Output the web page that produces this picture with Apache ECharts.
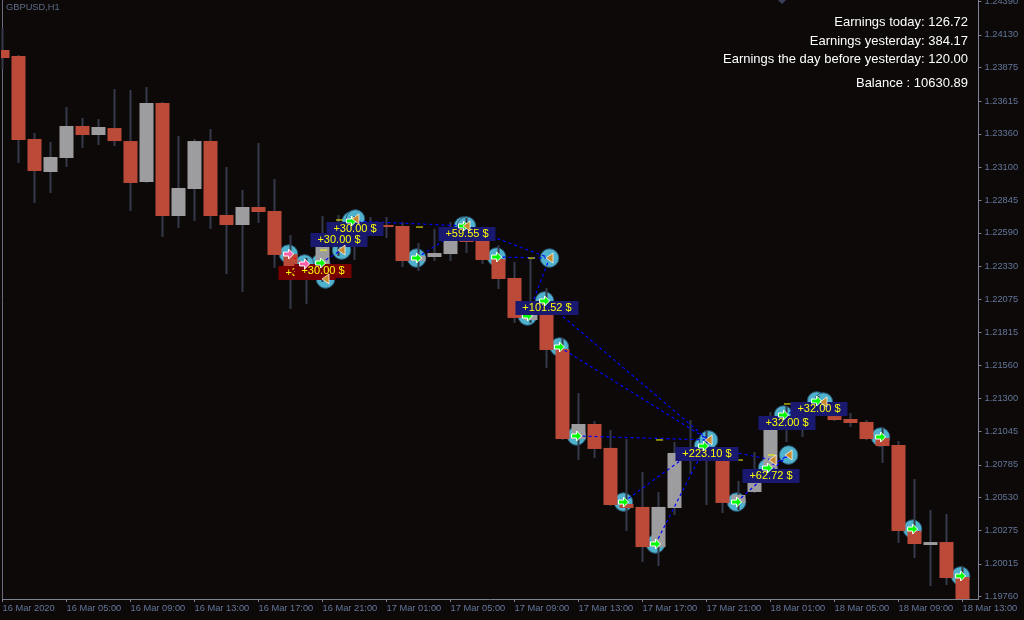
<!DOCTYPE html>
<html>
<head>
<meta charset="utf-8">
<style>html,body{margin:0;padding:0;background:#0c0908}#c{width:1024px;height:620px}</style>
<script src="https://cdn.jsdelivr.net/npm/echarts@6/dist/echarts.min.js"></script>
</head>
<body>
<div id="c"></div>
<script>
const opens=[1.24012,1.23965,1.23320,1.23063,1.23172,1.23421,1.23351,1.23405,1.23304,1.22985,1.23600,1.22721,1.22931,1.23304,1.22729,1.22651,1.22791,1.22760,1.22425,1.22332,1.22317,1.22480,1.22597,1.22667,1.22651,1.22643,1.22371,1.22402,1.22425,1.22612,1.22534,1.22387,1.22239,1.21912,1.22021,1.21686,1.20986,1.21103,1.20917,1.20481,1.20458,1.20146,1.20450,1.20878,1.20917,1.20831,1.20489,1.20574,1.20706,1.21095,1.21165,1.21181,1.21165,1.21142,1.21119,1.20994,1.20940,1.20271,1.20162,1.20185,1.19913];
const closes=[1.23950,1.23312,1.23071,1.23180,1.23421,1.23351,1.23413,1.23304,1.22978,1.23600,1.22721,1.22939,1.23304,1.22721,1.22651,1.22791,1.22752,1.22418,1.22317,1.22309,1.22480,1.22597,1.22667,1.22651,1.22635,1.22371,1.22410,1.22433,1.22527,1.22519,1.22379,1.22231,1.21928,1.22021,1.21679,1.20986,1.21103,1.20909,1.20473,1.20450,1.20146,1.20458,1.20878,1.20917,1.20831,1.20489,1.20551,1.20706,1.21095,1.21165,1.21228,1.21251,1.21134,1.21111,1.20986,1.20932,1.20271,1.20170,1.20185,1.19905,1.19742];
const highs=[1.24183,1.23973,1.23367,1.23297,1.23569,1.23483,1.23475,1.23709,1.23701,1.23724,1.23608,1.23343,1.23320,1.23398,1.23102,1.22923,1.23289,1.23009,1.22573,1.22394,1.22721,1.22729,1.22721,1.22713,1.22713,1.22674,1.22511,1.22620,1.22674,1.22705,1.22612,1.22495,1.22363,1.22394,1.22161,1.21772,1.21344,1.21126,1.21056,1.20986,1.20730,1.20574,1.20963,1.21134,1.21056,1.20901,1.20660,1.20885,1.21196,1.21243,1.21274,1.21321,1.21267,1.21189,1.21134,1.21080,1.20971,1.20675,1.20434,1.20403,1.19999];
const lows=[1.23864,1.23133,1.22822,1.22900,1.23102,1.23250,1.23273,1.23265,1.22760,1.22978,1.22558,1.22628,1.22682,1.22620,1.22270,1.22130,1.22667,1.22317,1.21998,1.22037,1.22208,1.22410,1.22379,1.22589,1.22550,1.22324,1.22293,1.22371,1.22371,1.22433,1.22348,1.22153,1.21889,1.21889,1.21539,1.20979,1.20823,1.20839,1.20465,1.20271,1.20030,1.19999,1.20395,1.20714,1.20473,1.20411,1.20434,1.20566,1.20668,1.20963,1.21002,1.21165,1.21126,1.21080,1.20979,1.20800,1.20178,1.20061,1.19843,1.19851,1.19742];

const priceTicks=[1.24390,1.24130,1.23875,1.23615,1.23360,1.23100,1.22845,1.22590,1.22330,1.22075,1.21815,1.21560,1.21300,1.21045,1.20785,1.20530,1.20275,1.20015,1.19760];
const hourTicks=[0,4,8,12,16,20,24,28,32,36,40,44,48,52,56,60];
const hourLabels=['16 Mar 2020','16 Mar 05:00','16 Mar 09:00','16 Mar 13:00','16 Mar 17:00','16 Mar 21:00','17 Mar 01:00','17 Mar 05:00','17 Mar 09:00','17 Mar 13:00','17 Mar 17:00','17 Mar 21:00','18 Mar 01:00','18 Mar 05:00','18 Mar 09:00','18 Mar 13:00'];

const greenEntries=[[19.88,1.22355],[21.81,1.22682],[25.88,1.22394],[28.81,1.22643],[30.88,1.22402],[33.88,1.22060],[34.81,1.21702],[35.88,1.21010],[38.81,1.20496],[40.81,1.20170],[43.81,1.20932],[45.88,1.20496],[47.81,1.20761],[48.81,1.21173],[50.88,1.21282],[54.88,1.21002],[56.88,1.20286],[59.88,1.19921]];
const coveredEntries=[[32.81,1.21943]];
const pinkEntries=[[17.88,1.22425],[18.88,1.22348]];
const exits=[[20.19,1.22231],[21.19,1.22456],[22.06,1.22698],[29.0,1.22643],[34.19,1.22394],[44.13,1.20979],[49.13,1.20862],[51.31,1.21274]];
const bareExits=[[48.13,1.20823]];
const closeDashes=[[21.06,1.22690],[20.06,1.22456],[19.06,1.22231],[26.06,1.22635],[33.06,1.22394],[41.06,1.20979],[46.06,1.20823],[49.06,1.21259],[48.06,1.20862]];

const blueLines=[
 [[21.81,1.22682],[29.0,1.22643]],
 [[25.88,1.22394],[29.0,1.22643]],
 [[28.81,1.22643],[34.19,1.22394]],
 [[30.88,1.22402],[34.19,1.22394]],
 [[32.81,1.21943],[34.19,1.22394]],
 [[33.88,1.22060],[44.13,1.20979]],
 [[34.81,1.21702],[44.13,1.20979]],
 [[35.88,1.21010],[44.13,1.20979]],
 [[38.81,1.20496],[44.13,1.20979]],
 [[40.81,1.20170],[44.13,1.20979]],
 [[43.81,1.20932],[48.13,1.20823]],
 [[45.88,1.20496],[49.13,1.20862]],
 [[47.81,1.20761],[49.13,1.20862]],
 [[19.88,1.22355],[21.19,1.22456]],
 [[48.81,1.21173],[51.31,1.21274]]
];
const redLines=[
 [[17.88,1.22425],[20.19,1.22231]],
 [[18.88,1.22348],[20.19,1.22231]]
];

const profitTexts=['+30.00 $','+30.00 $','+59.55 $','+101.52 $','+223.10 $','+62.72 $','+32.00 $','+32.00 $'];
const profitSpots=[[21.03,1.22534],[22.03,1.22620],[29.03,1.22581],[34.03,1.22005],[44.03,1.20870],[48.03,1.20699],[49.03,1.21111],[51.03,1.21220]];
const openTextsBack=['+30.00 $'];
const openSpotsBack=[[19.03,1.22278]];
const openTextsFront=['+30.00 $'];
const openSpotsFront=[[20.03,1.22293]];

const infoLines=['Earnings today: 126.72','Earnings yesterday: 384.17','Earnings the day before yesterday: 120.00','Balance : 10630.89'];

const wickData=opens.map((o,i)=>[i,o,closes[i],lows[i],highs[i]]);
const bodyData=opens.map((o,i)=>[i,o,closes[i],Math.min(o,closes[i]),Math.max(o,closes[i])]);

const RED='#bc4a39',GRAY='#9d9d9f',WICK='#343a49',BLUE='#191970',MAROON='#7a0000';
const FONT='"Liberation Sans", Arial, sans-serif';
const ARROW='path://M0,3 L5,3 L5,0 L10,5 L5,10 L5,7 L0,7 Z';
const TRI='path://M10,0 L10,12 L0,6 Z';

function dot(name,data,z){return {name,type:'scatter',data,z,silent:true,symbol:'circle',symbolSize:18.5,
  itemStyle:{color:'#4fb1cb',borderColor:'#2c5d7c',borderWidth:1,opacity:1}};}
function mark(name,data,z,symbol,size,color,bw){return {name,type:'scatter',data,z,silent:true,symbol,symbolSize:size,
  itemStyle:{color,borderColor:'#ffffff',borderWidth:bw,opacity:1}};}
function tag(name,texts,spots,color,z){return {name,type:'scatter',z,silent:true,symbol:'rect',
  data:spots.map((s,i)=>({value:s,name:texts[i],symbolSize:[texts[i].length>8?63:57,14]})),
  itemStyle:{color,opacity:1},
  label:{show:true,position:'inside',formatter:p=>p.name,color:'#ffff00',fontFamily:FONT,fontSize:11}};}
function seg(name,pts,color,z){return {name,type:'line',data:pts,z,silent:true,showSymbol:false,symbol:'none',
  lineStyle:{color,width:1.2,type:[3,3]}};}

const option={
 animation:false,
 backgroundColor:'#0c0908',
 grid:{left:2.5,right:45.5,top:0,bottom:21,containLabel:false,outerBoundsMode:'none'},
 xAxis:{type:'value',min:0,max:61,splitLine:{show:false},
   axisLine:{show:true,lineStyle:{color:'#7f8494',width:1}},
   axisTick:{show:true,length:3,customValues:hourTicks,lineStyle:{color:'#7f8494'}},
   axisLabel:{customValues:hourTicks,formatter:v=>hourLabels[hourTicks.indexOf(v)],align:'left',margin:5,color:'#64779a',fontFamily:FONT,fontSize:9.3,hideOverlap:false}},
 yAxis:[
  {type:'value',position:'right',min:1.19742,max:1.24401,scale:true,splitLine:{show:false},
   axisLine:{show:true,onZero:false,lineStyle:{color:'#7f8494',width:1}},
   axisTick:{show:true,length:3,customValues:priceTicks,lineStyle:{color:'#7f8494'}},
   axisLabel:{customValues:priceTicks,formatter:v=>v.toFixed(5),margin:6,color:'#64779a',fontFamily:FONT,fontSize:9.3,hideOverlap:false}},
  {type:'value',position:'left',min:1.19742,max:1.24401,scale:true,splitLine:{show:false},
   axisLine:{show:true,onZero:false,lineStyle:{color:'#6a6e7c',width:1}},axisTick:{show:false},axisLabel:{show:false}}
 ],
 series:[
  dot('entry rings',greenEntries.concat(pinkEntries,coveredEntries),1),
  dot('exit rings',exits,1),
  {name:'wicks',type:'candlestick',z:2,silent:true,data:wickData,encode:{x:0,y:[1,2,3,4]},barWidth:1,
   itemStyle:{color:WICK,color0:WICK,borderColor:WICK,borderColor0:WICK,borderWidth:2}},
  {name:'bodies',type:'candlestick',z:3,silent:true,data:bodyData,encode:{x:0,y:[1,2,3,4]},barWidth:15,
   itemStyle:{color:GRAY,color0:RED,borderWidth:0}},
  ...blueLines.map((p,i)=>seg('blue trade '+i,p,'#0000ff',4)),
  ...redLines.map((p,i)=>seg('red trade '+i,p,'#ff0000',4)),
  {name:'close dashes',type:'scatter',z:5,silent:true,data:closeDashes,symbol:'rect',symbolSize:[7,1],itemStyle:{color:'#ffff00',opacity:1}},
  mark('covered entry',coveredEntries,5,ARROW,10,'#00ff00',1),
  tag('open tag back',openTextsBack,openSpotsBack,MAROON,6),
  tag('open tag front',openTextsFront,openSpotsFront,MAROON,7),
  tag('profit tags',profitTexts,profitSpots,BLUE,7),
  mark('entries',greenEntries,8,ARROW,10,'#00ff00',1),
  mark('pink entries',pinkEntries,8,ARROW,10,'#ff5fa8',1),
  mark('exits',exits.concat(bareExits),8,TRI,[7,10],'#c98a2b',0.7)
 ],
 graphic:[
  {type:'rect',shape:{x:0,y:0,width:1,height:620},style:{fill:'#0c0908'},z:20},
  {type:'text',left:6,top:3,style:{text:'GBPUSD,H1',fill:'#5d6d8a',font:'9.3px '+FONT}},
  ...[22,40.5,58.5,83].map((y,i)=>({type:'text',right:56,top:y-6,style:{text:infoLines[i],fill:'#ffffff',font:'13px '+FONT,textAlign:'right'}})),
  {type:'polygon',shape:{points:[[778,0],[786,0],[782,4]]},style:{fill:'#3a3f5e'}}
 ]
};
echarts.init(document.getElementById('c'),null,{renderer:'canvas'}).setOption(option);
</script>
</body>
</html>
